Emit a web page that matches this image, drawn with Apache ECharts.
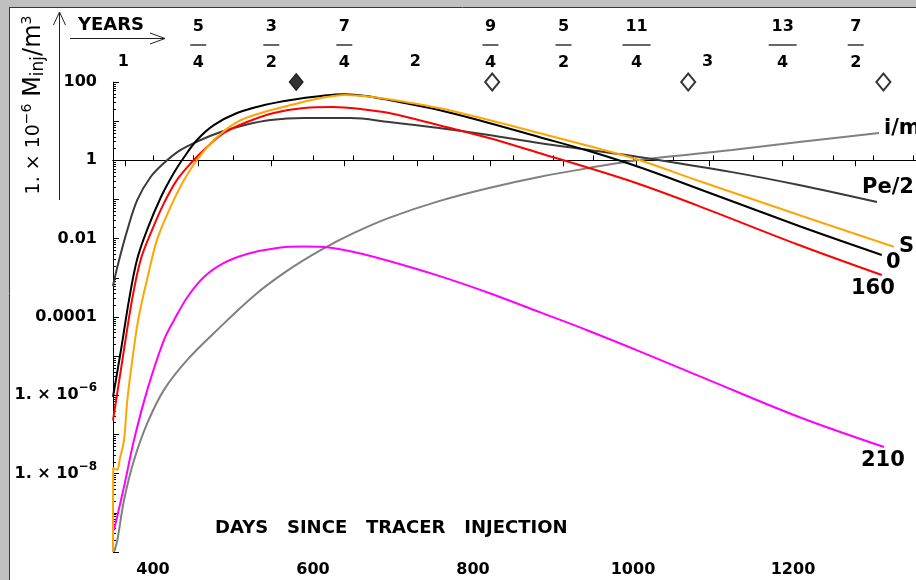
<!DOCTYPE html>
<html><head><meta charset="utf-8">
<script src="https://cdn.jsdelivr.net/npm/echarts@6/dist/echarts.min.js"></script>
<style>html,body{margin:0;padding:0;background:#fff}#c{width:916px;height:580px}</style>
</head><body><div id="c"></div>
<script>
// ---- data (day, concentration in 1e-6 Minj/m3) ----
const curveZero = [[350,9.1e-7],[360,1.45e-5],[370,2.7e-4],[380,2.9e-3],[392.5,0.0166],[410,0.116],[426,0.475],[439,1.22],[455,3.3],[476,7.9],[505,16.2],[539,25.8],[572.5,34.8],[610,44],[639,49],[666,44],[695,34.8],[757.5,19.3],[820,9.0],[882.5,3.95],[945,1.73],[1007.5,0.675],[1082.5,0.186],[1207.5,0.0211],[1311,0.00384]];
const curve160 = [[350,2.3e-7],[360,4.7e-6],[373.75,2.7e-4],[384.6,2.9e-3],[398.75,0.0166],[413.75,0.081],[430,0.316],[447.5,0.855],[467.5,2.19],[488.75,4.99],[517.5,9.5],[551,16.2],[589,21.7],[625,23],[660,20.4],[695,16.2],[757.5,7.9],[820,3.7],[882.5,1.54],[945,0.637],[1007.5,0.249],[1082.5,0.068],[1207.5,0.0069],[1311,0.00118]];
const curveS = [[350,1e-10],[350.2,1.4e-8],[355,1.25e-8],[358.75,2.5e-8],[363.75,7.2e-8],[367.9,7.6e-7],[374.1,7.9e-6],[380.4,6.3e-5],[386.6,2.7e-4],[392.5,8.9e-4],[405,9.3e-3],[422,0.065],[438.75,0.316],[455,1.02],[476,3.3],[505,9.5],[539,17.1],[572.5,25.9],[610,38.9],[639,46.5],[674,41.4],[716,30.9],[757.5,21.7],[820,10.7],[882.5,4.99],[945,2.32],[1007.5,1.02],[1082.5,0.297],[1207.5,0.0403],[1326,0.0062]];
const curvePe2 = [[350,6.2e-4],[355.4,1.9e-3],[367.9,0.0166],[380.4,0.098],[397,0.376],[413.75,0.855],[434.6,1.84],[459.6,3.3],[484.6,5.3],[513.75,7.9],[547,10.7],[588.75,12.0],[647,12.0],[695,9.5],[757.5,6.7],[820,4.44],[882.5,2.77],[945,1.84],[1007.5,1.22],[1123.75,0.5],[1207.5,0.234],[1305,0.086]];
const curveIm = [[351.25,1e-10],[355.4,2.0e-10],[363.75,2.1e-9],[376.25,2.2e-8],[392.9,1.95e-7],[413.75,1.38e-6],[442.5,7.9e-6],[476.25,3.9e-5],[526.25,3.5e-4],[567.5,1.5e-3],[609.6,5.1e-3],[651.25,0.014],[695,0.034],[757.5,0.091],[820,0.197],[882.5,0.376],[945,0.637],[1007.5,1.02],[1123.75,1.84],[1207.5,2.94],[1307.5,5.0]];
const curve210 = [[351.25,3.6e-10],[363.75,4.6e-9],[376.25,7.2e-8],[392.9,1.38e-6],[413.75,2.6e-5],[426.25,8.3e-5],[442.9,3.2e-4],[463.75,1.05e-3],[488.75,2.4e-3],[517.5,4.07e-3],[555,5.8e-3],[588.75,6.3e-3],[620,5.96e-3],[651.25,4.57e-3],[695,2.69e-3],[757.5,1.12e-3],[820,4.1e-4],[882.5,1.35e-4],[945,4.4e-5],[1007.5,1.35e-5],[1095,2.45e-6],[1207.5,2.8e-7],[1313.75,4.8e-8]];

const markerDays = [579, 824, 1069, 1313];
const markerFilled = [true, false, false, false];

const yearTicks = [1, 1.25, 1.5, 1.75, 2, 2.25, 2.5, 2.75, 3, 3.25, 3.5];
const yearLabels = ['1', '5/4', '3/2', '7/4', '2', '9/4', '5/2', '11/4', '3', '13/4', '7/2'];
const dayLabels = [400, 600, 800, 1000, 1200];
const yLabelExps = [2, 0, -2, -4, -6, -8];
const yLabelText = {'2': '100', '0': '1', '-2': '0.01', '-4': '0.0001'};

// ---- chart ----
const DAYS_PER_YEAR = 365.25;
const FF = '"DejaVu Sans"';
const X_MIN = 350, X_MAX = 1400;
const chart = echarts.init(document.getElementById('c'));

const minorLogTicks = [];
for (let n = -10; n < 2; n++) for (let k = 2; k <= 9; k++) minorLogTicks.push(n + Math.log10(k));

const labBold = {fontFamily: FF, fontWeight: 'bold', fontSize: 16, color: '#000'};

function line(name, data, color, z) {
  return {name, type: 'line', data, xAxisIndex: 0, yAxisIndex: 0, showSymbol: false, symbol: 'none',
    smooth: 0.35, z, lineStyle: {color, width: 2}, animation: false, clip: true};
}

const option = {
  animation: false,
  backgroundColor: '#fff',
  grid: {left: 113, top: 82, bottom: 28, right: 916 - 953, containLabel: false, outerBoundsMode: 'none'},
  xAxis: [
    {type: 'value', position: 'bottom', min: X_MIN, max: X_MAX, interval: 50,
      axisLine: {lineStyle: {color: '#000', width: 1}},
      axisTick: {inside: true, length: 5, lineStyle: {color: '#000'}},
      splitLine: {show: false},
      axisLabel: {margin: 10, ...labBold, showMinLabel: true, showMaxLabel: false,
        formatter: v => dayLabels.includes(v) ? String(v) : ''}},
    {type: 'value', position: 'top', min: X_MIN, max: X_MAX,
      axisLine: {lineStyle: {color: '#000', width: 1}},
      axisTick: {inside: true, length: 6, lineStyle: {color: '#000'},
        customValues: yearTicks.map(y => y * DAYS_PER_YEAR)},
      splitLine: {show: false},
      axisLabel: {margin: 10, customValues: yearTicks.map(y => y * DAYS_PER_YEAR),
        formatter: v => {
          const i = yearTicks.findIndex(y => Math.abs(y * DAYS_PER_YEAR - v) < 0.5);
          const t = yearLabels[i];
          if (!t) return '';
          if (t.indexOf('/') >= 0) {
            const [n, d] = t.split('/');
            return '{n|' + n + '}\n{' + (n.length > 1 ? 'barW' : 'bar') + '| }\n{n|' + d + '}';
          }
          return '{i|' + t + '}';
        },
        rich: {
          n: {...labBold, lineHeight: 18},
          i: {...labBold, lineHeight: 18, padding: [0, 4, 2, 0]},
          bar: {width: 16, height: 1.5, backgroundColor: '#333', lineHeight: 18},
          barW: {width: 28, height: 1.5, backgroundColor: '#333', lineHeight: 18}
        }}}
  ],
  yAxis: [
    {type: 'log', logBase: 10, min: 1e-10, max: 100, position: 'left',
      axisLine: {show: true, lineStyle: {color: '#000', width: 1}},
      axisTick: {show: false}, axisLabel: {show: false}, splitLine: {show: false}, minorTick: {show: false}},
    {type: 'value', min: -10, max: 2, interval: 1, position: 'left',
      axisLine: {show: false},
      axisTick: {inside: true, length: 6, lineStyle: {color: '#000'}},
      splitLine: {show: false},
      axisLabel: {margin: 16, showMaxLabel: true, showMinLabel: true,
        formatter: v => {
          const e = Math.round(v);
          if (!yLabelExps.includes(e)) return '';
          if (yLabelText[String(e)]) return '{m|' + yLabelText[String(e)] + '}';
          return '{m|1. × 10}{s|−' + (-e) + '}';
        },
        rich: {
          m: {...labBold, lineHeight: 26},
          s: {...labBold, fontSize: 12, lineHeight: 12, padding: [0, 0, 14, 0]}
        }}},
    {type: 'value', min: -10, max: 2, position: 'left',
      axisLine: {show: false}, splitLine: {show: false}, axisLabel: {show: false},
      axisTick: {inside: true, length: 3, lineStyle: {color: '#000'}, customValues: minorLogTicks}}
  ],
  series: [
    line('i/m', curveIm, '#808080', 2),
    line('210', curve210, '#ff00ff', 3),
    line('Pe/2', curvePe2, '#3a3a3a', 4),
    line('0', curveZero, '#000000', 5),
    line('160', curve160, '#ff0000', 6),
    line('S', curveS, '#ffa500', 7),
    {type: 'scatter', xAxisIndex: 0, yAxisIndex: 0, clip: false, z: 10, symbol: 'diamond', symbolSize: [14, 17],
      data: markerDays.map((d, i) => ({value: [d, 100],
        itemStyle: markerFilled[i] ? {color: '#000', borderColor: '#000', borderWidth: 1}
                                   : {color: '#fff', borderColor: '#000', borderWidth: 2}}))}
  ],
  graphic: [
    {type: 'rect', silent: true, z: 100, shape: {x: 0, y: 0, width: 916, height: 7}, style: {fill: '#c0c0c0'}},
    {type: 'rect', silent: true, z: 100, shape: {x: 0, y: 0, width: 9, height: 580}, style: {fill: '#c0c0c0'}},
    {type: 'line', silent: true, z: 100, shape: {x1: 9, y1: 7.5, x2: 916, y2: 7.5}, style: {stroke: '#1a3b7a', lineWidth: 1}},
    {type: 'line', silent: true, z: 100, shape: {x1: 9.5, y1: 7, x2: 9.5, y2: 580}, style: {stroke: '#1a3b7a', lineWidth: 1}},
    // vertical arrow next to y title
    {type: 'polyline', silent: true, shape: {points: [[59.5, 200], [59.5, 12]]}, style: {stroke: '#222', lineWidth: 1}},
    {type: 'polyline', silent: true, shape: {points: [[53.5, 25], [59.5, 12], [65.5, 25]]}, style: {stroke: '#222', lineWidth: 1, fill: null}},
    // YEARS arrow
    {type: 'polyline', silent: true, shape: {points: [[70, 38.5], [165, 38.5]]}, style: {stroke: '#222', lineWidth: 1}},
    {type: 'polyline', silent: true, shape: {points: [[150, 33], [165, 38.5], [150, 44]]}, style: {stroke: '#222', lineWidth: 1, fill: null}},
    {type: 'text', silent: true, x: 78, y: 25, style: {text: 'YEARS', font: 'bold 18px ' + FF, fill: '#000', align: 'left', verticalAlign: 'middle'}},
    // y title
    {type: 'text', silent: true, x: 34, y: 105, rotation: Math.PI / 2,
      style: {text: '{a|1. × 10}{s|−6}  {m|M}{b|inj}{m|/m}{s|3}', align: 'center', verticalAlign: 'middle', fill: '#000',
        rich: {
          a: {fontFamily: FF, fontSize: 19, lineHeight: 30, fill: '#000'},
          m: {fontFamily: FF, fontSize: 24, lineHeight: 30, fill: '#000'},
          s: {fontFamily: FF, fontSize: 14, lineHeight: 14, padding: [0, 0, 14, 0], fill: '#000'},
          b: {fontFamily: FF, fontSize: 17, lineHeight: 17, padding: [10, 0, 0, 0], fill: '#000'}
        }}},
    {type: 'text', silent: true, x: 215, y: 528, style: {text: 'DAYS   SINCE   TRACER   INJECTION', font: 'bold 18px ' + FF, fill: '#000', align: 'left', verticalAlign: 'middle'}},
    // curve end labels
    {type: 'text', silent: true, x: 884, y: 129, style: {text: 'i/m', font: 'bold 21px ' + FF, fill: '#000', verticalAlign: 'middle'}},
    {type: 'text', silent: true, x: 862, y: 188, style: {text: 'Pe/2', font: 'bold 21px ' + FF, fill: '#000', verticalAlign: 'middle'}},
    {type: 'text', silent: true, x: 899, y: 247, style: {text: 'S', font: 'bold 21px ' + FF, fill: '#000', verticalAlign: 'middle'}},
    {type: 'text', silent: true, x: 886, y: 263, style: {text: '0', font: 'bold 21px ' + FF, fill: '#000', verticalAlign: 'middle'}},
    {type: 'text', silent: true, x: 851, y: 289, style: {text: '160', font: 'bold 21px ' + FF, fill: '#000', verticalAlign: 'middle'}},
    {type: 'text', silent: true, x: 861, y: 461, style: {text: '210', font: 'bold 21px ' + FF, fill: '#000', verticalAlign: 'middle'}}
  ]
};
chart.setOption(option);
</script>
</body></html>
